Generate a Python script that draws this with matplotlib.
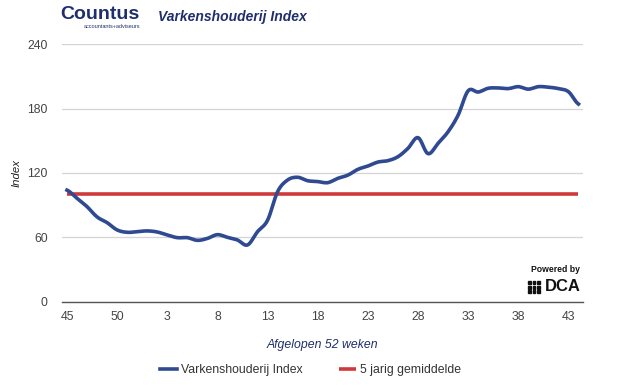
import matplotlib
matplotlib.use("Agg")
import matplotlib.pyplot as plt
from matplotlib.patches import Rectangle
import numpy as np

plt.rcParams["font.family"] = ["Liberation Sans", "DejaVu Sans"]

# weeks 45..52 of last year, then 1..44
weeks = list(range(45, 53)) + list(range(1, 45))
index_values = [
    104, 96.4, 88.6, 79, 73.7, 66.9, 64.7, 65.3, 66, 65,
    62.2, 59.7, 59.7, 57.2, 59, 62.5, 60, 57.5, 52.9, 65.3,
    76, 102.6, 113.5, 116, 112.8, 112, 111, 115, 118, 123.4,
    126.5, 130.2, 131.5, 135.2, 143, 153, 138, 147.7, 158.5, 174,
    196.7, 195.5, 199, 199.3, 198.7, 200.5, 198.2, 200.5, 200, 198.7,
    195.8, 184.3,
]
avg_5yr = [100] * len(weeks)
tick_weeks = [45, 50, 3, 8, 13, 18, 23, 28, 33, 38, 43]
y_ticks = [0, 60, 120, 180, 240]

blue = "#304a92"
red = "#d0393a"
navy = "#1f2f6e"

fig = plt.figure(figsize=(6.25, 3.91), dpi=100)
ax = fig.add_axes([0.0987, 0.2284, 0.8341, 0.6583])

x = np.arange(len(weeks))
# smooth drawing between the read points (catmull-rom style rendering)
xs, ys = [], []
pts = np.array(index_values, dtype=float)
for i in range(len(pts) - 1):
    p0 = pts[max(i - 1, 0)]
    p1 = pts[i]
    p2 = pts[i + 1]
    p3 = pts[min(i + 2, len(pts) - 1)]
    for t in np.linspace(0, 1, 8, endpoint=False):
        y = 0.5 * ((2 * p1) + (-p0 + p2) * t + (2 * p0 - 5 * p1 + 4 * p2 - p3) * t ** 2
                   + (-p0 + 3 * p1 - 3 * p2 + p3) * t ** 3)
        xs.append(i + t)
        ys.append(y)
xs.append(len(pts) - 1)
ys.append(pts[-1])

ax.plot(x, avg_5yr, color=red, lw=2.6, solid_capstyle="butt", zorder=3,
        label="5 jarig gemiddelde")
ax.plot(xs, ys, color=blue, lw=2.6, zorder=4, label="Varkenshouderij Index")

ax.set_xlim(-0.53, 51.45)
ax.set_ylim(0, 240)
ax.set_yticks(y_ticks)
ax.set_xticks([weeks.index(w) for w in tick_weeks])
ax.set_xticklabels([str(w) for w in tick_weeks])
ax.grid(axis="y", color="#d4d4d4", lw=0.9)
ax.set_axisbelow(True)
for s in ["top", "right", "left"]:
    ax.spines[s].set_visible(False)
ax.spines["bottom"].set_color("#555555")
ax.spines["bottom"].set_linewidth(1.0)
ax.tick_params(length=0, labelsize=8.8, colors="#444444", pad=7)
ax.tick_params(axis="y", pad=10)

ax.set_ylabel("Index", fontsize=8.2, style="italic", color="#222222", labelpad=4)
ax.set_xlabel("Afgelopen 52 weken", fontsize=8.8, style="italic", color=navy, labelpad=11)

# legend order: index first
h, l = ax.get_legend_handles_labels()
fig.legend(h[::-1], l[::-1], loc="center", bbox_to_anchor=(0.497, 0.054), ncol=2,
           frameon=False, fontsize=8.8, handlelength=1.4, handletextpad=0.3,
           columnspacing=3.0, labelcolor="#333333")

# header
fig.text(0.097, 0.963, "Countus", fontsize=14, fontweight="bold", color=navy,
         va="center", ha="left")
fig.text(0.225, 0.933, "accountants+adviseurs", fontsize=4, color=navy,
         va="center", ha="right")
fig.text(0.253, 0.957, "Varkenshouderij Index", fontsize=10, fontweight="bold",
         style="italic", color=navy, va="center", ha="left")

# powered by DCA
fig.text(0.928, 0.312, "Powered by", fontsize=6.2, fontweight="bold", color="#111111",
         ha="right", va="center")
fig.text(0.929, 0.267, "DCA", fontsize=12, fontweight="bold", color="#111111",
         ha="right", va="center")
for r in range(3):
    for c in range(3):
        fig.patches.append(Rectangle((0.845 + c * 0.0072, 0.250 + r * 0.0118), 0.0045, 0.0072,
                                     transform=fig.transFigure, color="#111111"))

fig.savefig("out.png", dpi=100)
